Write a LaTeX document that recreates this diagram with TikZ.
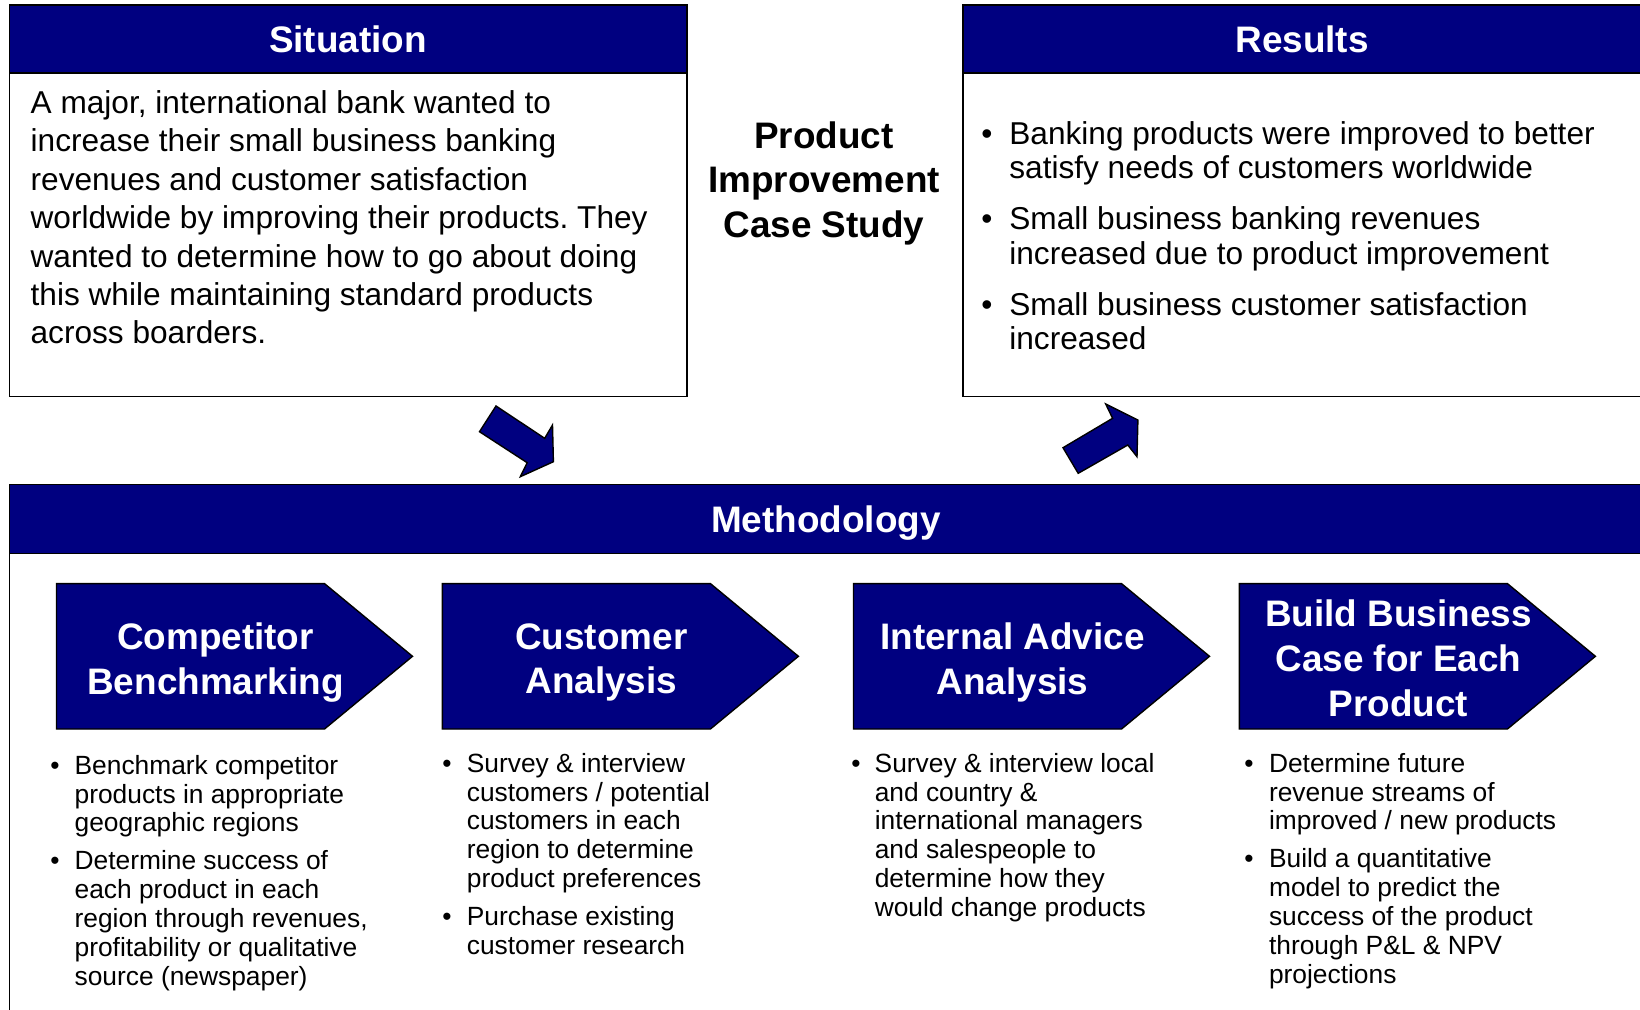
\documentclass[tikz,border=0pt]{standalone}
\usepackage{fontspec}
\setmainfont{Liberation Sans}
\definecolor{navy}{RGB}{0,0,128}
\frenchspacing
\begin{document}
\begin{tikzpicture}[x=0.02cm,y=-0.02cm,
  frame/.style={draw=black,line width=0.9pt,fill=white},
  band/.style={fill=navy,draw=black,line width=0.9pt},
  blockarrow/.style={fill=navy,draw=black,line width=0.8pt,line join=miter},
  chevron/.style={fill=navy,draw=black,line width=0.8pt},
  headtext/.style={text=white,font=\fontsize{21}{25}\selectfont\bfseries,inner sep=0},
  chevtext/.style={text=white,align=center,font=\fontsize{21}{25.5}\selectfont\bfseries,inner sep=0},
  bodytext/.style={font=\fontsize{18}{21.85}\selectfont,inner sep=0,anchor=base west},
  resulttext/.style={font=\fontsize{18}{19.6}\selectfont,inner sep=0,anchor=base west},
  titletext/.style={font=\fontsize{21}{25.3}\selectfont\bfseries,inner sep=0,anchor=base},
  listtext/.style={font=\fontsize{15}{16.5}\selectfont,inner sep=0,anchor=base west}]
\useasboundingbox (0,0) rectangle (1640,1009);
\clip (0,0) rectangle (1640,1009);

% Situation panel
\draw[frame] (9.4,5.2) rectangle (687,396.4);
\draw[band] (9.4,5.2) rectangle (687,73.2);
\node[headtext] (sithead) at (348,39.5) {Situation};
\node[bodytext] (sittext) at (30.3,113.5) {\begin{tabular}[t]{@{}l@{}}
A major, international bank wanted to\\
increase their small business banking\\
revenues and customer satisfaction\\
worldwide by improving their products. They\\
wanted to determine how to go about doing\\
this while maintaining standard products\\
across boarders.
\end{tabular}};

% Results panel
\draw[frame] (963,5.2) rectangle (1700,396.4);
\draw[band] (963,5.2) rectangle (1700,73.2);
\node[headtext] (reshead) at (1302,39.5) {Results};
\node[resulttext] (restext) at (981,144.5) {\begin{tabular}[t]{@{}p{0.56cm}@{}l@{}}
\textbullet & Banking products were improved to better\\
 & satisfy needs of customers worldwide\\[0.33cm]
\textbullet & Small business banking revenues\\
 & increased due to product improvement\\[0.33cm]
\textbullet & Small business customer satisfaction\\
 & increased
\end{tabular}};

% Central title
\node[titletext] (title) at (824,148.5) {\begin{tabular}[t]{@{}c@{}}
Product\\ Improvement\\ Case Study
\end{tabular}};

% Block arrows between the panels
\draw[blockarrow] (496,406) -- (544.7,438.3) -- (552.5,425) -- (553.4,461.7)
  -- (520.3,476.7) -- (527.2,462.7) -- (479.5,431.7) -- cycle;
\draw[blockarrow] (1105.7,404) -- (1137.9,420) -- (1137,456.7) -- (1127.8,445)
  -- (1078.2,473.3) -- (1063,447.7) -- (1112.6,418.3) -- cycle;

% Methodology panel
\draw[frame] (9.4,484.3) rectangle (1700,1040);
\draw[band] (9.4,484.3) rectangle (1700,553.3);
\node[headtext] (methhead) at (826,523.2) {Methodology};

% Step chevrons
\draw[chevron] (56.5,583.6) -- ++(268,0) -- (412.5,656.3) -- (324.5,729) -- (56.5,729) -- cycle;
\node[chevtext] (c1) at (215.5,662.5) {Competitor\\Benchmarking};
\draw[chevron] (442.4,583.6) -- ++(268,0) -- (798.4,656.3) -- (710.4,729) -- (442.4,729) -- cycle;
\node[chevtext] (c2) at (601.4,662.5) {Customer\\Analysis};
\draw[chevron] (853.5,583.6) -- ++(268,0) -- (1209.5,656.3) -- (1121.5,729) -- (853.5,729) -- cycle;
\node[chevtext] (c3) at (1012.5,662.5) {Internal Advice\\Analysis};
\draw[chevron] (1239.4,583.6) -- ++(268,0) -- (1595.4,656.3) -- (1507.4,729) -- (1239.4,729) -- cycle;
\node[chevtext] (c4) at (1398.4,658.5) {Build Business\\Case for Each\\Product};

% Step details
\node[listtext] (l1) at (50,774) {\begin{tabular}[t]{@{}p{0.486cm}@{}l@{}}
\textbullet & Benchmark competitor\\
 & products in appropriate\\
 & geographic regions\\[0.172cm]
\textbullet & Determine success of\\
 & each product in each\\
 & region through revenues,\\
 & profitability or qualitative\\
 & source (newspaper)
\end{tabular}};
\node[listtext] (l2) at (442,772) {\begin{tabular}[t]{@{}p{0.49cm}@{}l@{}}
\textbullet & Survey \& interview\\
 & customers / potential\\
 & customers in each\\
 & region to determine\\
 & product preferences\\[0.172cm]
\textbullet & Purchase existing\\
 & customer research
\end{tabular}};
\node[listtext] (l3) at (851,772) {\begin{tabular}[t]{@{}p{0.468cm}@{}l@{}}
\textbullet & Survey \& interview local\\
 & and country \&\\
 & international managers\\
 & and salespeople to\\
 & determine how they\\
 & would change products
\end{tabular}};
\node[listtext] (l4) at (1244,772) {\begin{tabular}[t]{@{}p{0.494cm}@{}l@{}}
\textbullet & Determine future\\
 & revenue streams of\\
 & improved / new products\\[0.172cm]
\textbullet & Build a quantitative\\
 & model to predict the\\
 & success of the product\\
 & through P\&L \& NPV\\
 & projections
\end{tabular}};
\end{tikzpicture}
\end{document}
